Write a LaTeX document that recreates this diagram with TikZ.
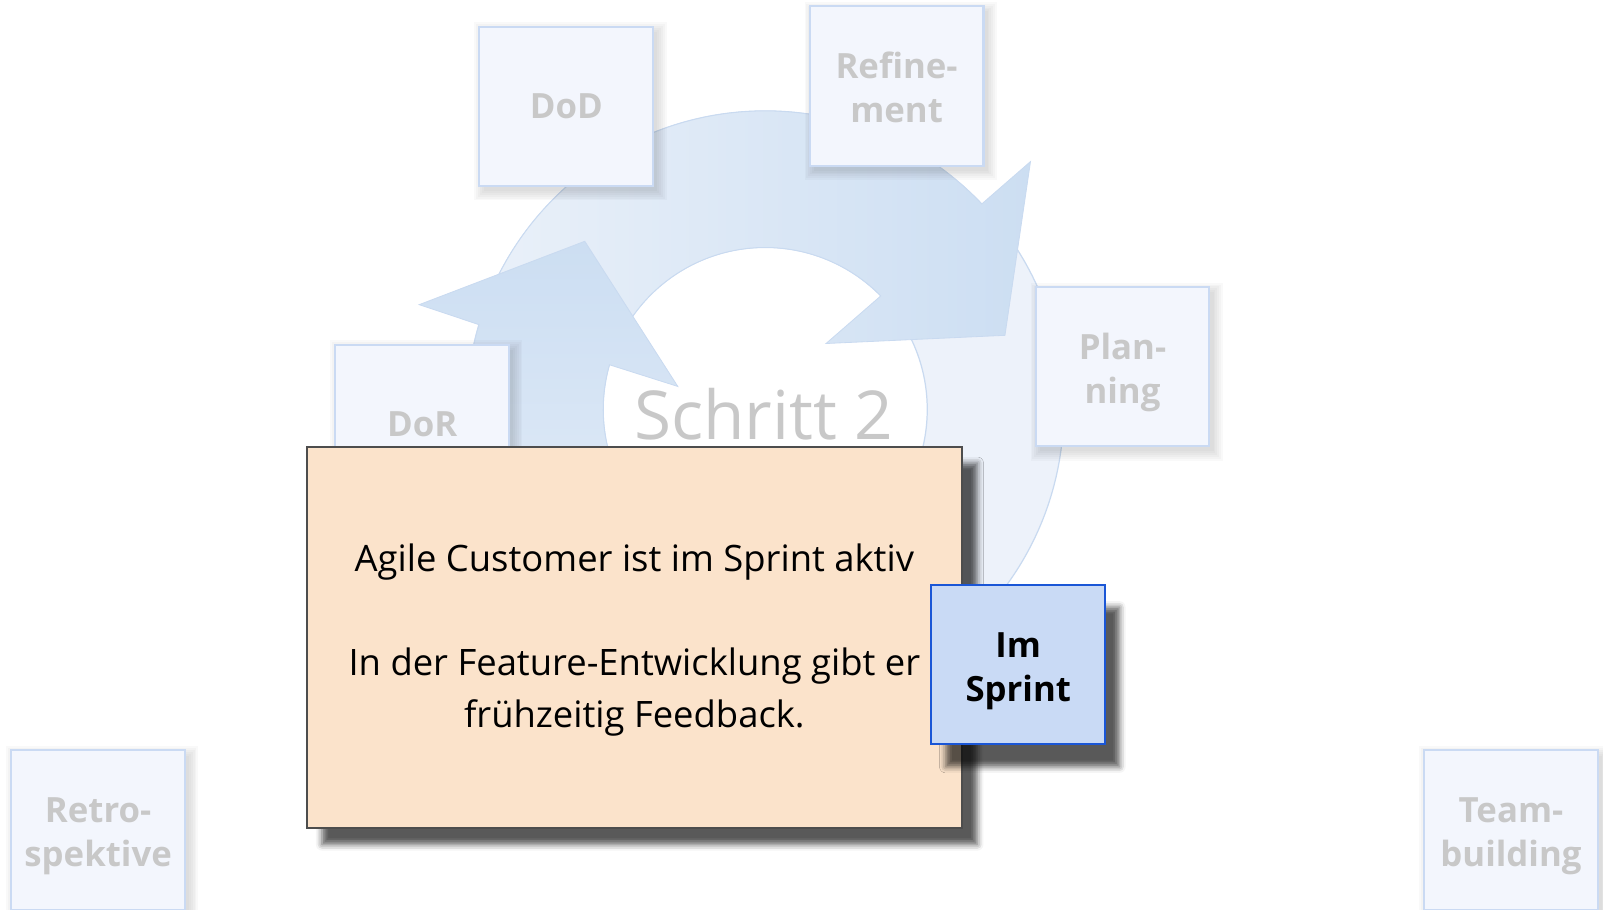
\documentclass[tikz,border=0pt]{standalone}
\usepackage{fontspec}
\setmainfont{Open Sans}
\usetikzlibrary{shadows.blur}
\definecolor{fadefill}{HTML}{F3F6FD}
\definecolor{fadeline}{HTML}{CADAF3}
\definecolor{fadetext}{HTML}{C8C8C8}
\definecolor{ringfill}{HTML}{EDF2FA}
\definecolor{ringline}{HTML}{C9DAF0}
\definecolor{arrowdark}{HTML}{CCDEF2}
\definecolor{arrowlight}{HTML}{E9F0F9}
\definecolor{notefill}{HTML}{FBE3CB}
\definecolor{noteline}{HTML}{4D4D4D}
\definecolor{activefill}{HTML}{C9DAF5}
\definecolor{activeline}{HTML}{1A56D6}
\newcommand\softshadow[5]{%
  \foreach \k in {0,...,5}{\fill[black,opacity=#5] (#1-85+#3-\k*1.8, #2-78+#4-\k*1.8) rectangle (#1+85+#3+\k*1.8, #2+78+#4+\k*1.8);}}
\newcommand\twotop{\rule{0pt}{19.2pt}}
\newcommand\twobot{\rule[-5pt]{0pt}{5pt}}
\tikzset{
  fadebox/.style={draw=fadeline, line width=1pt, fill=fadefill, minimum width=85pt, minimum height=78pt,
    text=fadetext, align=center, inner sep=0pt,
    font=\bfseries\fontsize{17pt}{21.5pt}\selectfont},
  notebox/.style={draw=noteline, line width=0.8pt, fill=notefill, minimum width=320.5pt, minimum height=186.5pt,
    align=center, inner sep=0pt, text=black,
    font=\fontsize{17.8pt}{25.5pt}\selectfont,
    blur shadow={shadow xshift=7.5pt, shadow yshift=-8pt, shadow blur radius=3pt, shadow opacity=65}},
  activebox/.style={draw=activeline, line width=1pt, fill=activefill, minimum width=85pt, minimum height=78pt,
    align=center, inner sep=0pt, text=black,
    font=\bfseries\fontsize{17pt}{21.5pt}\selectfont,
    blur shadow={shadow xshift=7pt, shadow yshift=-11pt, shadow blur radius=3pt, shadow opacity=65}},
  bigtitle/.style={text=fadetext, font=\fontsize{33pt}{40pt}\selectfont, inner sep=0pt}
}
\begin{document}
\begin{tikzpicture}[x=0.5pt,y=-0.5pt]
\useasboundingbox (0,0) rectangle (1568,890);
\coordinate (C) at (748.5,400.5);
% ring
\fill[ringfill, even odd rule] (C) circle[radius=292] (C) circle[radius=158.5];
\draw[ringline, line width=0.6pt] (C) circle[radius=292];
\draw[ringline, line width=0.6pt] (C) circle[radius=158.5];
% right arrow (over the top)
\path[draw=ringline, line width=0.4pt, left color=arrowlight, right color=arrowdark]
  ([shift={(C)}]205:292) arc[start angle=205, end angle=316.5, radius=292]
  -- (1008,158) -- (983,328) -- (808,336)
  -- ([shift={(C)}]315.5:158.5) arc[start angle=315.5, end angle=205, radius=158.5] -- cycle;
% left arrow (up the left side)
\path[draw=ringline, line width=0.4pt, top color=arrowdark, bottom color=arrowlight]
  ([shift={(C)}]110:292) arc[start angle=110, end angle=196.5, radius=292]
  -- (410,298) -- (572,236) -- (663,378)
  -- ([shift={(C)}]196:158.5) arc[start angle=196, end angle=110, radius=158.5] -- cycle;
% soft shadows of the faded boxes
\softshadow{554}{104}{4}{5}{0.022}
\softshadow{877}{84}{4}{5}{0.022}
\softshadow{1098}{358.5}{4}{5}{0.022}
\softshadow{413}{415}{4}{5}{0.022}
\softshadow{96}{812}{4}{5}{0.022}
\softshadow{1478}{812}{4}{5}{0.022}
% faded boxes
\node[fadebox] (dod) at (554,104) {DoD};
\node[fadebox] (refinement) at (877,84) {\twotop Refine-\\ment\twobot};
\node[fadebox] (planning) at (1098,358.5) {\twotop Plan-\\ning\twobot};
\node[fadebox] (dor) at (413,415) {DoR};
\node[fadebox] (retro) at (96,812) {\twotop Retro-\\spektive\twobot};
\node[fadebox] (team) at (1478,812) {\twotop Team-\\building\twobot};
\node[bigtitle] (title) at (747,405) {Schritt 2};
% note and active step
\node[notebox] (note) at (620.5,623.5) {\rule{0pt}{16pt}Agile Customer ist im Sprint aktiv\\[25.5pt]In der Feature-Entwicklung gibt er\\frühzeitig Feedback.};
\node[activebox] (sprint) at (996,650) {\twotop Im\\Sprint\twobot};
\end{tikzpicture}
\end{document}
